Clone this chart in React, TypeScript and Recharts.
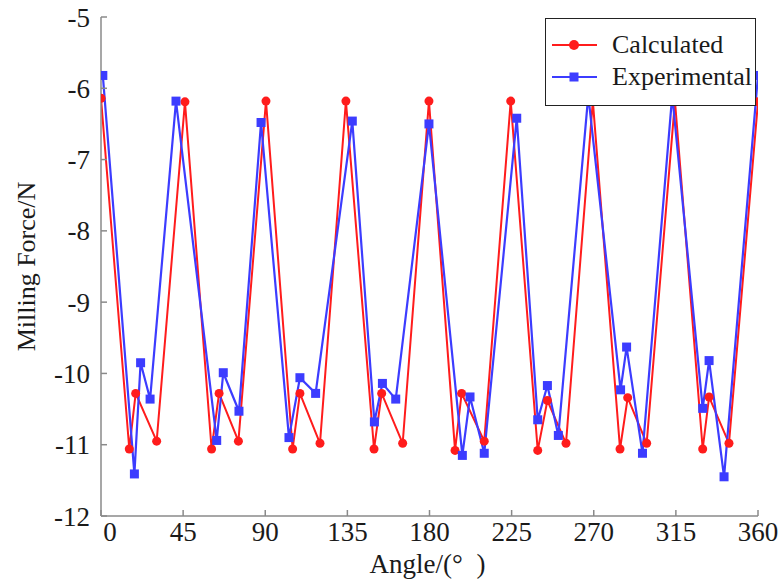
import { LineChart, Line, XAxis, YAxis, Legend } from 'recharts'

// Calculated series (angle in degrees, milling force in N)
const calcAngles = [
  0, 15.5, 19, 30.5, 46, 60.6, 64.7, 75.3, 90.4, 105, 109, 120, 134.2, 149.6, 153.8, 165.3,
  179.7, 194, 197.6, 210, 224.5, 239.3, 244.6, 254.8, 269.5, 284.4, 288.6, 299, 314.5, 329.7,
  333.2, 344.1, 360,
]
const calcForce = [
  -6.14, -11.06, -10.28, -10.95, -6.19, -11.06, -10.28, -10.95, -6.18, -11.06, -10.28, -10.98,
  -6.18, -11.06, -10.28, -10.98, -6.18, -11.08, -10.28, -10.95, -6.18, -11.08, -10.38, -10.98,
  -6.18, -11.06, -10.34, -10.98, -6.18, -11.06, -10.33, -10.98, -6.19,
]

// Experimental series
const expAngles = [
  1, 18.3, 21.7, 26.9, 41.1, 63.4, 67, 75.6, 87.7, 103, 109, 117.6, 137.7, 149.8, 154.2, 161.5,
  179.7, 198, 202.2, 210, 227.8, 239.3, 244.6, 250.6, 267, 284.7, 288, 296.7, 313, 329.7, 333.2,
  341.4, 360,
]
const expForce = [
  -5.82, -11.41, -9.85, -10.36, -6.18, -10.94, -9.99, -10.53, -6.48, -10.9, -10.06, -10.28,
  -6.46, -10.68, -10.14, -10.36, -6.5, -11.15, -10.33, -11.12, -6.42, -10.65, -10.17, -10.87,
  -6.1, -10.23, -9.63, -11.12, -6.1, -10.49, -9.82, -11.45, -5.82,
]

const xTicks = [0, 45, 90, 135, 180, 225, 270, 315, 360]
const yTicks = [-12, -11, -10, -9, -8, -7, -6, -5]

const RED = '#ff1c1c'
const BLUE = '#3c3cff'
const FRAME = '#8a8a8a'
const FONT = '"Liberation Serif", "Times New Roman", serif'

const calcData = calcAngles.map((a, i) => ({ angle: a, force: calcForce[i] }))
const expData = expAngles.map((a, i) => ({ angle: a, force: expForce[i] }))

const SquareDot = (p: any) => (
  <rect key={`sq-${p.index}`} x={p.cx - 4.5} y={p.cy - 4.5} width={9} height={9} fill={BLUE} />
)

// bottom tick labels; the "0" sits a little right of the axis in the original
const AngleTick = ({ x, y, payload }: any) => (
  <text
    x={payload.value === 0 ? x + 9 : x}
    y={y}
    dy="0.71em"
    textAnchor="middle"
    fontSize={27}
    fontFamily={FONT}
    fill="#1a1a1a"
  >
    {payload.value}
  </text>
)

const LegendBox = ({ payload }: any) => (
  <div
    style={{
      background: '#fff',
      border: '1.5px solid #222',
      width: 211,
      height: 88,
      boxSizing: 'border-box',
      paddingTop: 10,
      fontFamily: FONT,
      fontSize: 26,
      color: '#1a1a1a',
    }}
  >
    {(payload || []).map((p: any) => {
      const isCalc = p.value === 'Calculated'
      return (
        <div key={p.value} style={{ display: 'flex', alignItems: 'center', height: 32 }}>
          <svg width={60} height={20} style={{ marginLeft: 6 }}>
            <line x1={0} y1={10} x2={45} y2={10} stroke={isCalc ? RED : BLUE} strokeWidth={2} />
            {isCalc
              ? <circle cx={22} cy={10} r={5} fill={RED} />
              : <rect x={17.5} y={5.5} width={9} height={9} fill={BLUE} />}
          </svg>
          <span style={{ lineHeight: '26px' }}>{p.value}</span>
        </div>
      )
    })}
  </div>
)

export default function App() {
  return (
    <div style={{ position: 'absolute', left: 0, top: 0, width: 779, height: 583, background: '#fff' }}>
      <LineChart width={779} height={583} margin={{ top: 17, right: 21, bottom: 0, left: 0 }}>
        <XAxis
          dataKey="angle"
          type="number"
          domain={[0, 360]}
          allowDataOverflow
          ticks={xTicks}
          interval={0}
          height={67}
          tickSize={-6}
          tickMargin={12}
          stroke={FRAME}
          strokeWidth={1.5}
          tick={<AngleTick />}
          label={({ viewBox }: any) => (
            <text
              x={viewBox.x + viewBox.width / 2 - 2}
              y={viewBox.y + 57}
              textAnchor="middle"
              fontSize={27}
              fontFamily={FONT}
              fill="#1a1a1a"
              style={{ whiteSpace: 'pre' }}
            >
              {'Angle/(°\u00a0\u00a0)'}
            </text>
          )}
        />
        <XAxis
          xAxisId="top"
          orientation="top"
          type="number"
          domain={[0, 360]}
          allowDataOverflow
          ticks={xTicks}
          height={0}
          tickSize={-6}
          tick={false}
          stroke={FRAME}
          strokeWidth={1.5}
        />
        <YAxis
          type="number"
          domain={[-12, -5]}
          allowDataOverflow
          ticks={yTicks}
          interval={0}
          width={101}
          tickSize={-6}
          tickMargin={17}
          stroke={FRAME}
          strokeWidth={1.5}
          tick={{ fontSize: 27, fill: '#1a1a1a', fontFamily: FONT }}
          label={({ viewBox }: any) => (
            <text
              x={viewBox.x + 26}
              y={viewBox.y + viewBox.height / 2}
              textAnchor="middle"
              dominantBaseline="central"
              fontSize={26}
              fontFamily={FONT}
              fill="#1a1a1a"
              transform={`rotate(-90 ${viewBox.x + 26} ${viewBox.y + viewBox.height / 2})`}
            >
              Milling Force/N
            </text>
          )}
        />
        <YAxis
          yAxisId="right"
          orientation="right"
          type="number"
          domain={[-12, -5]}
          allowDataOverflow
          ticks={yTicks}
          width={0}
          tickSize={-6}
          tick={false}
          stroke={FRAME}
          strokeWidth={1.5}
        />
        <Line
          data={calcData}
          dataKey="force"
          name="Calculated"
          stroke={RED}
          strokeWidth={2}
          dot={{ r: 4.5, fill: RED, stroke: RED, strokeWidth: 0 }}
          activeDot={false}
          isAnimationActive={false}
        />
        <Line
          data={expData}
          dataKey="force"
          name="Experimental"
          stroke={BLUE}
          strokeWidth={2.2}
          dot={SquareDot}
          activeDot={false}
          isAnimationActive={false}
        />
        <Legend
          layout="vertical"
          align="center"
          verticalAlign="middle"
          content={<LegendBox />}
          wrapperStyle={{ left: 545, top: 18, width: 211, height: 88 }}
        />
      </LineChart>
    </div>
  )
}
